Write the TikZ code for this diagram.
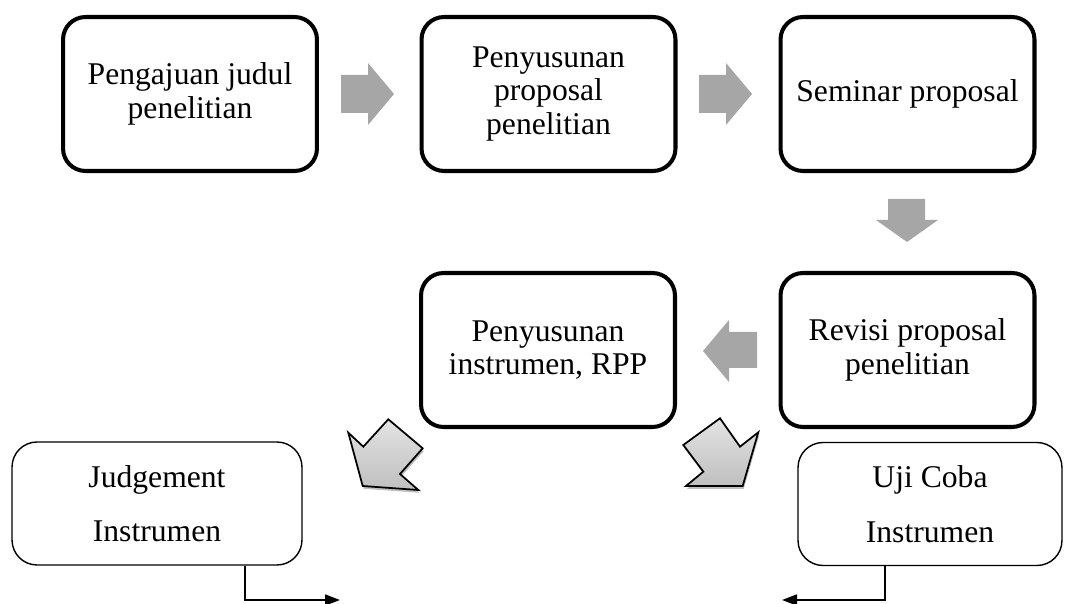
\documentclass[tikz,border=0pt]{standalone}
\usepackage{fontspec}
\setmainfont{Liberation Serif}
\usetikzlibrary{arrows.meta,shadows}
\definecolor{arrgray}{RGB}{166,166,166}
\tikzset{
  stepbox/.style={draw=black,line width=2.3pt,rounded corners=0.45cm,
    minimum width=5.08cm,minimum height=3.08cm,align=center,
    font=\fontsize{18}{19}\selectfont},
  subbox/.style={draw=black,line width=0.8pt,rounded corners=0.5cm,
    minimum height=2.46cm,align=center,font=\fontsize{18}{31}\selectfont},
  blockarr/.style={fill=arrgray},
  diagarr/.style={draw=black,line width=1pt,top color=gray!22,bottom color=gray!50,
    drop shadow={shadow xshift=0.6pt,shadow yshift=-1.6pt,fill=black!50}},
  conn/.style={-{Triangle[length=3mm,width=2.2mm]},line width=1pt},
}
\begin{document}
\begin{tikzpicture}[x=0.02cm,y=-0.02cm]
  \useasboundingbox (0,0) rectangle (1066,604);
  % main steps
  \node[stepbox] (judul) at (190,94) {Pengajuan judul\\penelitian};
  \node[stepbox] (susun) at (548.5,94) {Penyusunan\\proposal\\penelitian};
  \node[stepbox] (seminar) at (907.5,94) {Seminar proposal};
  \node[stepbox] (revisi) at (907.5,350) {Revisi proposal\\penelitian};
  \node[stepbox] (instr) at (548,350) {Penyusunan\\instrumen, RPP};
  % side steps
  \node[subbox,minimum width=5.8cm] (judge) at (157,503.5) {Judgement\\Instrumen};
  \node[subbox,minimum width=5.28cm] (uji) at (930,504) {Uji Coba\\Instrumen};
  % flat gray block arrows
  \foreach \dx in {0,358}
    \fill[blockarr,xshift=\dx*0.02cm] (341,75) -- (368,75) -- (368,63) -- (394,94)
      -- (368,125) -- (368,113) -- (341,113) -- cycle;
  \fill[blockarr] (888,199) -- (925,199) -- (925,220) -- (938,220) -- (907,242)
    -- (876,220) -- (888,220) -- cycle;
  \fill[blockarr] (757,332) -- (729,332) -- (729,320) -- (703,351) -- (729,382)
    -- (729,368) -- (757,368) -- cycle;
  % shaded diagonal arrows
  \draw[diagarr] (388.3,419.3) -- (422.7,448.3) -- (400,474) -- (418.3,490)
    -- (362.7,486) -- (348.3,432.7) -- (363.3,446.7) -- cycle;
  \draw[diagarr] (720,418.3) -- (740,446.7) -- (758.3,432.3) -- (742.7,486)
    -- (686,486) -- (703.3,471.7) -- (683.3,445) -- cycle;
  % elbow connectors
  \coordinate (jend) at (340,600);
  \coordinate (uend) at (782,600);
  \draw[conn] (judge.south) ++(88,0) |- (jend);
  \draw[conn] (uji.south) ++(-45,0) |- (uend);
\end{tikzpicture}
\end{document}
